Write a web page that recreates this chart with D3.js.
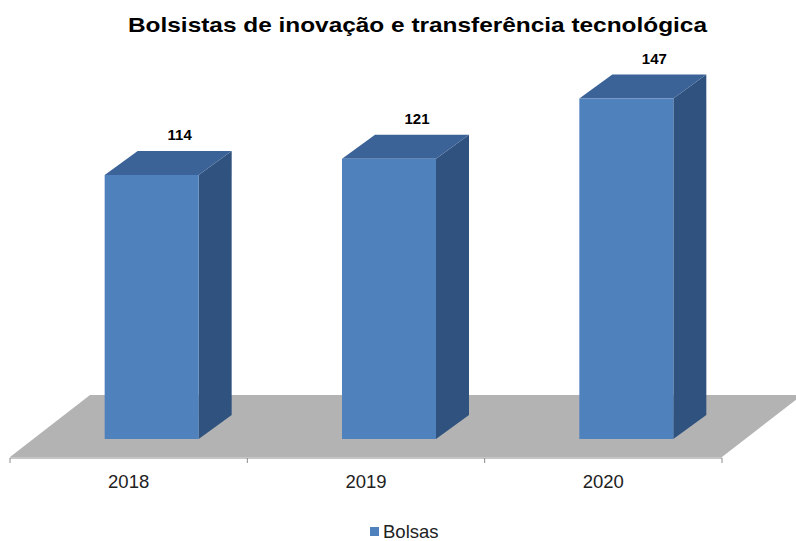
<!DOCTYPE html>
<html>
<head>
<meta charset="utf-8">
<script src="https://cdn.jsdelivr.net/npm/d3@7"></script>
<style>
  body { margin: 0; background: #fff; }
  text { font-family: "Liberation Sans", Arial, sans-serif; }
</style>
</head>
<body>
<svg id="chart" width="796" height="541"></svg>
<script>
// data
var years = ["2018", "2019", "2020"];
var bolsas = [114, 121, 147];
var seriesName = "Bolsas";
var title = "Bolsistas de inovação e transferência tecnológica";

var svg = d3.select("svg#chart");

// floor / depth geometry
var floorFront = 457, floorBack = 395;
var floorShift = 80;           // x shift of back edge of floor
var depthX = 33, depthY = 24;  // bar depth offset
var barLift = 18;              // bar sits this far behind floor front edge
var barShift = 23;
var barW = 94;

var x = d3.scaleBand().domain(years).range([10, 722]);
var y = d3.scaleLinear().domain([0, 160]).range([floorFront - barLift, floorFront - barLift - 160 * 2.316]);

// title (the original is stretched wide)
svg.append("text")
    .attr("x", 128).attr("y", 32)
    .attr("textLength", 579).attr("lengthAdjust", "spacingAndGlyphs")
    .style("font-size", "21px").style("font-weight", "bold")
    .text(title);

// floor
var x0 = x.range()[0], x1 = x.range()[1];
svg.append("path")
    .attr("d", "M" + x0 + "," + floorFront + "L" + (x0 + floorShift) + "," + floorBack +
        "L" + (x1 + floorShift) + "," + floorBack + "L" + x1 + "," + floorFront + "Z")
    .attr("fill", "#b3b3b3");

// axis line + ticks at band edges
svg.append("line")
    .attr("x1", x0).attr("x2", x1).attr("y1", floorFront + 1).attr("y2", floorFront + 1)
    .attr("stroke", "#8c8c8c");
var edges = years.map(function(d) { return x(d); }).concat([x1]);
svg.selectAll(".tick").data(edges).enter().append("line")
    .attr("x1", function(d) { return d; }).attr("x2", function(d) { return d; })
    .attr("y1", floorFront + 1).attr("y2", floorFront + 6)
    .attr("stroke", "#8c8c8c");

svg.selectAll(".xlabel").data(years).enter().append("text")
    .attr("x", function(d) { return x(d) + x.bandwidth() / 2; })
    .attr("y", 488)
    .attr("text-anchor", "middle")
    .style("font-size", "18.5px").attr("fill", "#222")
    .text(function(d) { return d; });

// bars
var data = years.map(function(d, i) { return {year: d, value: bolsas[i]}; });
var bars = svg.selectAll(".bar").data(data).enter().append("g").attr("class", "bar");

function left(d) { return x(d.year) + x.bandwidth() / 2 - barW / 2 + barShift; }

// side face
bars.append("path")
    .attr("d", function(d) {
        var l = left(d) + barW, t = y(d.value), b = y(0);
        return "M" + l + "," + b + "L" + (l + depthX) + "," + (b - depthY) +
            "L" + (l + depthX) + "," + (t - depthY) + "L" + l + "," + t + "Z";
    })
    .attr("fill", "#30527f");

// top face
bars.append("path")
    .attr("d", function(d) {
        var l = left(d), t = y(d.value);
        return "M" + l + "," + t + "L" + (l + depthX) + "," + (t - depthY) +
            "L" + (l + barW + depthX) + "," + (t - depthY) + "L" + (l + barW) + "," + t + "Z";
    })
    .attr("fill", "#3c6398");

// front face
bars.append("rect")
    .attr("x", left)
    .attr("y", function(d) { return y(d.value); })
    .attr("width", barW)
    .attr("height", function(d) { return y(0) - y(d.value); })
    .attr("fill", "#4f81bd");

// value labels
bars.append("text")
    .attr("x", function(d) { return left(d) + barW / 2 + 28; })
    .attr("y", function(d) { return y(d.value) - depthY - 11; })
    .attr("text-anchor", "middle")
    .style("font-size", "15px").style("font-weight", "bold")
    .text(function(d) { return d.value; });

// legend
svg.append("rect")
    .attr("x", 370).attr("y", 527).attr("width", 9).attr("height", 9)
    .attr("fill", "#4f81bd");
svg.append("text")
    .attr("x", 383).attr("y", 538)
    .style("font-size", "18.5px").attr("fill", "#222")
    .text(seriesName);
</script>
</body>
</html>
